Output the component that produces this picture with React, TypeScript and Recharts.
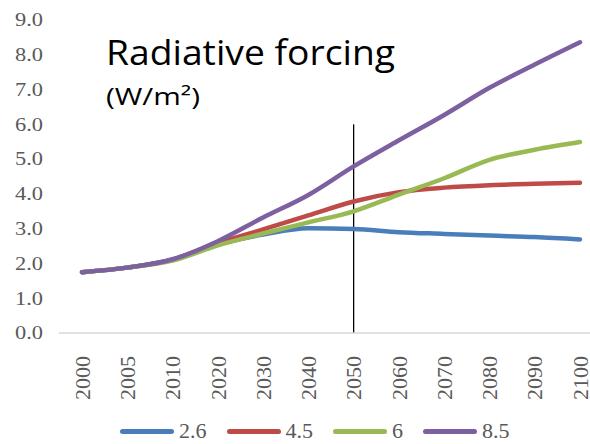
import { LineChart, Line, XAxis, YAxis, Legend, ReferenceLine } from "recharts"

const years = ["2000", "2005", "2010", "2020", "2030", "2040", "2050", "2060", "2070", "2080", "2090", "2100"]
const rcp26 = [1.75, 1.88, 2.11, 2.55, 2.83, 3.01, 2.99, 2.9, 2.85, 2.8, 2.76, 2.69]
const rcp45 = [1.75, 1.88, 2.11, 2.58, 2.98, 3.38, 3.78, 4.05, 4.18, 4.25, 4.29, 4.32]
const rcp60 = [1.75, 1.88, 2.08, 2.52, 2.86, 3.18, 3.5, 3.98, 4.45, 4.98, 5.27, 5.49]
const rcp85 = [1.75, 1.88, 2.12, 2.64, 3.32, 3.97, 4.79, 5.54, 6.27, 7.05, 7.72, 8.36]
const yTicks = [0, 1, 2, 3, 4, 5, 6, 7, 8, 9]

const series = [
  { key: "r26", name: "2.6", color: "#4a7ebb" },
  { key: "r45", name: "4.5", color: "#be4b48" },
  { key: "r60", name: "6", color: "#98b954" },
  { key: "r85", name: "8.5", color: "#7d60a0" },
]

const data = years.map((year, i) => ({
  year,
  r26: rcp26[i],
  r45: rcp45[i],
  r60: rcp60[i],
  r85: rcp85[i],
}))

const serif = "'Liberation Serif', 'Times New Roman', serif"
const gray = "#595959"

function YearTick({ x, y, payload }: any) {
  return (
    <text
      transform={`translate(${x},${y + 15}) rotate(-90)`}
      textAnchor="end"
      dy="0.35em"
      fontFamily={serif}
      fontSize={22}
      fill={gray}
    >
      {payload.value}
    </text>
  )
}

function ValueTick({ x, y, payload }: any) {
  return (
    <text
      x={x}
      y={y}
      textAnchor="end"
      dy="0.35em"
      fontFamily={serif}
      fontSize={18}
      fill={gray}
      textLength={28}
      lengthAdjust="spacingAndGlyphs"
    >
      {Number(payload.value).toFixed(1)}
    </text>
  )
}

function LegendContent() {
  return (
    <div style={{ display: "flex", gap: 20, alignItems: "center", height: 22 }}>
      {series.map((s) => (
        <div key={s.key} style={{ display: "flex", alignItems: "center", gap: 5 }}>
          <span style={{ width: 54, height: 5, borderRadius: 3, background: s.color, display: "inline-block" }} />
          <span style={{ fontFamily: serif, fontSize: 22, color: gray, lineHeight: "22px" }}>{s.name}</span>
        </div>
      ))}
    </div>
  )
}

export default function App() {
  return (
    <div style={{ position: "absolute", left: 0, top: 0, width: 590, height: 444, overflow: "hidden", background: "#fff" }}>
      <LineChart width={610} height={444} data={data} margin={{ top: 20, right: 7, left: 0, bottom: 0 }}>
        <XAxis
          dataKey="year"
          axisLine={{ stroke: "#d9d9d9", strokeWidth: 1.5 }}
          tickLine={false}
          tick={<YearTick />}
          interval={0}
          height={89}
          padding={{ left: 23, right: 23 }}
        />
        <YAxis
          domain={[0, 9]}
          ticks={yTicks}
          axisLine={false}
          tickLine={false}
          tickSize={0}
          tickMargin={16}
          width={59}
          tick={<ValueTick />}
        />
        <ReferenceLine
          segment={[
            { x: "2050", y: 0 },
            { x: "2050", y: 6 },
          ]}
          stroke="#000"
          strokeWidth={1.3}
        />
        {series.map((s) => (
          <Line
            key={s.key}
            type="monotone"
            dataKey={s.key}
            name={s.name}
            stroke={s.color}
            strokeWidth={4.5}
            strokeLinecap="round"
            dot={false}
            isAnimationActive={false}
          />
        ))}
        <Legend
          verticalAlign="bottom"
          content={<LegendContent />}
          wrapperStyle={{ left: 120, width: 420, height: 22, top: 420, bottom: "auto" }}
        />
      </LineChart>
      <svg width={590} height={444} style={{ position: "absolute", left: 0, top: 0, pointerEvents: "none" }}>
        <text x={106} y={65} fontFamily="'Open Sans', Lato, sans-serif" fontSize={34} fill="#000" textLength={289} lengthAdjust="spacingAndGlyphs">
          Radiative forcing
        </text>
        <text x={106} y={105} fontFamily="'Open Sans', Lato, sans-serif" fontSize={23} fill="#000" textLength={94} lengthAdjust="spacingAndGlyphs">
          (W/m²)
        </text>
      </svg>
    </div>
  )
}
